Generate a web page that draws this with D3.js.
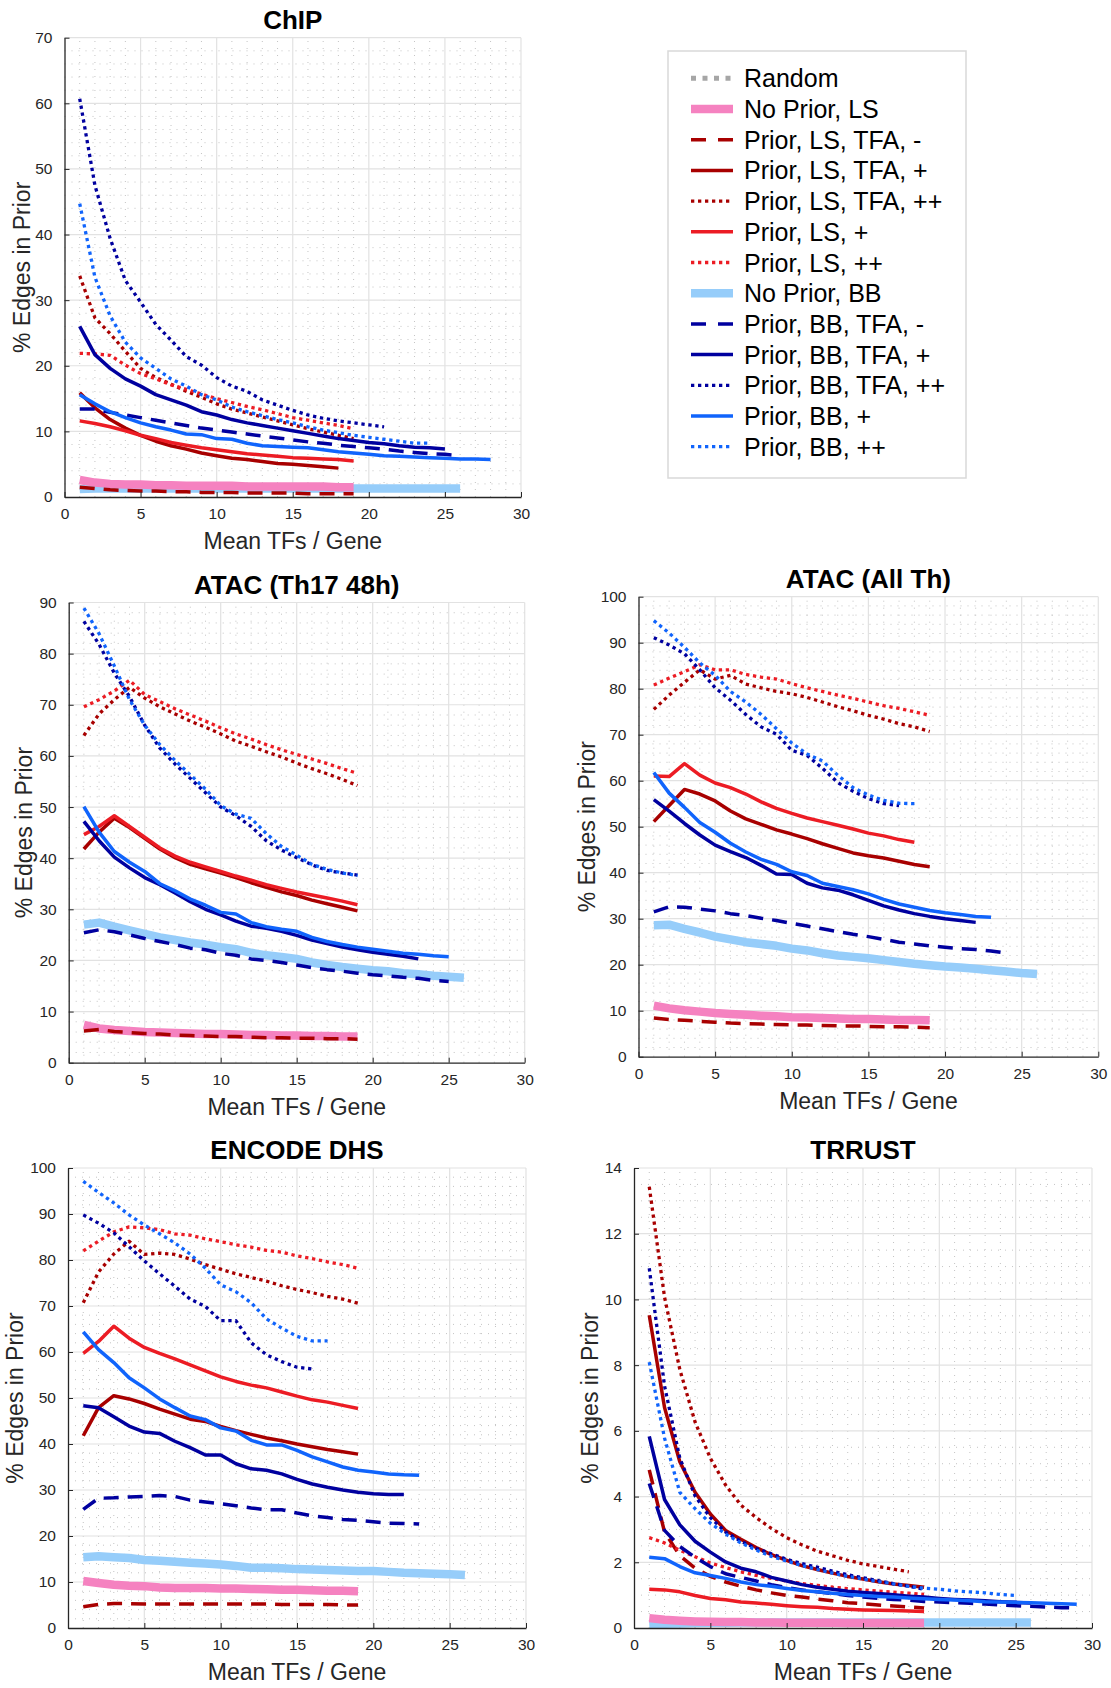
<!DOCTYPE html>
<html>
<head>
<meta charset="utf-8">
<script src="https://cdn.jsdelivr.net/npm/d3@7"></script>
<style>
  html, body { margin: 0; padding: 0; background: #ffffff; }
  svg { display: block; font-family: "Liberation Sans", Arial, Helvetica, sans-serif; }
</style>
</head>
<body>
<svg id="chart" width="1111" height="1688"></svg>
<script>
// ---------------- DATA (x = 1, 2, 3, ... mean TFs / gene) ----------------
const xTickValues = [0, 5, 10, 15, 20, 25, 30];
const panelTitles = ["ChIP", "ATAC (Th17 48h)", "ATAC (All Th)", "ENCODE DHS", "TRRUST"];
const legendLabels = ["Random", "No Prior, LS", "Prior, LS, TFA, -", "Prior, LS, TFA, +", "Prior, LS, TFA, ++",
  "Prior, LS, +", "Prior, LS, ++", "No Prior, BB", "Prior, BB, TFA, -", "Prior, BB, TFA, +",
  "Prior, BB, TFA, ++", "Prior, BB, +", "Prior, BB, ++"];
const xAxisLabel = "Mean TFs / Gene";
const yAxisLabel = "% Edges in Prior";

// ChIP
const chip_npBB = [1.2,1.3,1.3,1.3,1.3,1.3,1.3,1.3,1.3,1.3,1.3,1.3,1.3,1.3,1.3,1.3,1.3,1.3,1.3,1.3,1.3,1.3,1.3,1.3,1.3,1.3];
const chip_npLS = [2.6,2.2,2.0,1.9,1.9,1.8,1.8,1.7,1.7,1.7,1.7,1.6,1.6,1.6,1.6,1.6,1.6,1.5,1.5];
const chip_lsTfaMinus = [1.5,1.3,1.1,1.0,0.9,0.9,0.8,0.8,0.7,0.7,0.7,0.6,0.6,0.6,0.6,0.5,0.5,0.5,0.5];
const chip_lsTfaPlus = [15.9,13.6,11.8,10.5,9.4,8.5,7.8,7.3,6.7,6.3,5.9,5.7,5.4,5.1,5.0,4.8,4.6,4.4];
const chip_lsTfaPP = [33.7,27.3,24.9,22.2,19.6,18.2,17.2,16.1,15.2,14.2,13.4,12.8,12.2,11.6,11.0,10.4,9.9,9.4,8.9];
const chip_lsPlus = [11.6,11.2,10.7,10.1,9.4,8.9,8.3,7.9,7.5,7.2,6.9,6.6,6.4,6.2,6.0,5.9,5.8,5.7,5.5];
const chip_lsPP = [21.9,21.8,21.6,20.1,18.8,18.0,17.1,16.4,15.7,15.0,14.4,13.8,13.3,12.7,12.1,11.7,11.3,10.9,10.4];
const chip_bbTfaMinus = [13.4,13.4,12.9,12.5,12.1,11.7,11.3,10.9,10.5,10.2,9.9,9.6,9.3,9.0,8.7,8.4,8.2,7.9,7.7,7.5,7.3,7.0,6.8,6.6,6.5,6.3];
const chip_bbTfaPlus = [26.0,21.7,19.6,18.0,16.9,15.6,14.8,14.0,13.0,12.5,11.8,11.3,10.9,10.5,10.1,9.7,9.3,8.9,8.6,8.3,8.1,7.8,7.6,7.5,7.3];
const chip_bbTfaPP = [60.7,47.5,39.4,33.0,29.7,26.3,23.9,21.4,20.1,18.2,16.9,16.1,14.8,14.0,13.2,12.5,12.0,11.6,11.3,11.0,10.7];
const chip_bbPlus = [15.6,14.2,13.0,12.1,11.3,10.7,10.2,9.6,9.5,8.9,8.8,8.2,7.8,7.7,7.6,7.5,7.2,6.9,6.7,6.5,6.3,6.2,6.1,6.0,5.9,5.8,5.8,5.7];
const chip_bbPP = [44.7,33.5,27.6,23.6,21.2,19.6,18.0,16.9,15.6,14.8,13.7,13.0,12.4,11.8,11.3,10.7,10.2,9.8,9.4,9.1,8.8,8.5,8.2,8.2];

// ATAC (Th17 48h)
const th17_npBB = [27.0,27.4,26.6,25.9,25.2,24.5,24.0,23.5,23.1,22.6,22.2,21.5,21.0,20.7,20.3,19.6,19.1,18.7,18.4,18.1,17.9,17.5,17.3,17.0,16.8,16.6];
const th17_npLS = [7.4,6.7,6.4,6.2,6.0,5.9,5.8,5.7,5.6,5.6,5.5,5.4,5.4,5.3,5.3,5.2,5.2,5.1,5.1];
const th17_lsTfaMinus = [6.2,6.5,6.1,5.9,5.7,5.6,5.4,5.3,5.2,5.1,5.1,5.0,4.9,4.9,4.8,4.8,4.7,4.7,4.6];
const th17_lsTfaPlus = [41.8,45.1,47.8,46.0,43.9,41.8,40.1,38.8,37.9,37.1,36.2,35.2,34.3,33.4,32.7,31.8,31.1,30.4,29.7];
const th17_lsTfaPP = [64.0,68.2,71.0,73.4,71.3,69.6,68.2,66.8,65.6,64.3,62.9,61.9,60.8,59.8,58.6,57.5,56.5,55.4,54.2];
const th17_lsPlus = [44.6,46.2,48.3,46.2,44.1,42.0,40.4,39.2,38.3,37.4,36.5,35.7,34.8,34.1,33.4,32.8,32.2,31.6,30.9];
const th17_lsPP = [69.6,71.0,72.7,74.8,72.0,70.6,69.2,68.0,66.8,65.5,64.3,63.3,62.2,61.2,60.3,59.4,58.5,57.5,56.6];
const th17_bbTfaMinus = [25.4,26.0,25.6,25.0,24.3,23.7,23.1,22.4,22.1,21.4,21.0,20.3,20.0,19.6,19.1,18.6,18.2,17.9,17.5,17.2,17.0,16.7,16.5,16.1,15.9];
const th17_bbTfaPlus = [47.2,43.4,40.2,38.1,36.2,34.8,33.2,31.5,30.0,28.9,27.7,26.7,26.3,25.7,24.9,24.0,23.3,22.6,22.1,21.6,21.2,20.8,20.3];
const th17_bbTfaPP = [86.3,81.8,76.2,71.6,66.0,61.5,58.4,55.6,52.8,50.0,48.3,46.2,43.4,41.6,40.1,38.7,37.6,37.1,36.7];
const th17_bbPlus = [50.1,45.1,41.3,39.2,37.4,35.0,33.6,32.0,30.8,29.4,29.1,27.4,26.6,26.1,25.7,24.5,23.7,23.1,22.6,22.2,21.8,21.4,21.2,20.9,20.7];
const th17_bbPP = [88.9,83.9,77.6,71.0,66.0,62.2,59.1,56.3,53.5,50.3,48.6,47.8,44.8,42.3,40.6,38.8,37.8,37.1,36.6];

// ATAC (All Th)
const allth_npBB = [28.6,28.7,27.8,27.0,26.1,25.5,24.9,24.5,24.1,23.5,23.1,22.5,22.0,21.7,21.4,21.0,20.6,20.2,19.9,19.6,19.4,19.1,18.8,18.5,18.2,18.0];
const allth_npLS = [11.1,10.5,10.1,9.8,9.5,9.3,9.1,8.9,8.8,8.6,8.5,8.4,8.3,8.2,8.2,8.1,8.0,8.0,7.9];
const allth_lsTfaMinus = [8.4,8.1,7.9,7.7,7.5,7.3,7.2,7.1,7.0,6.9,6.9,6.8,6.7,6.7,6.6,6.5,6.5,6.4,6.3];
const allth_lsTfaPlus = [51.1,54.6,58.1,57.1,55.6,53.4,51.7,50.5,49.3,48.4,47.4,46.3,45.3,44.3,43.7,43.2,42.5,41.8,41.3];
const allth_lsTfaPP = [75.5,78.6,81.4,84.1,82.1,82.9,81.0,80.2,79.4,78.9,78.1,77.1,76.1,75.2,74.2,73.4,72.4,71.7,70.7];
const allth_lsPlus = [61.0,60.9,63.7,61.2,59.5,58.5,57.1,55.4,54.0,52.9,51.9,51.1,50.3,49.5,48.6,48.0,47.2,46.6];
const allth_lsPP = [80.8,82.3,83.7,85.2,84.1,84.1,83.1,82.5,82.1,81.1,80.2,79.4,78.6,77.9,77.1,76.3,75.7,75.0,74.2];
const allth_bbTfaMinus = [31.5,32.6,32.5,32.1,31.7,31.1,30.7,30.1,29.6,29.0,28.4,27.8,27.2,26.6,26.1,25.5,24.9,24.5,24.1,23.8,23.5,23.3,23.0,22.5];
const allth_bbTfaPlus = [55.9,53.4,50.7,48.2,46.0,44.6,43.3,41.6,39.7,39.6,37.7,36.7,36.2,35.2,34.0,32.8,31.9,31.1,30.5,30.0,29.6,29.2];
const allth_bbTfaPP = [91.1,89.5,87.6,84.1,80.2,77.5,74.4,71.7,70.1,66.6,65.5,62.7,59.6,57.7,56.1,55.0,54.6];
const allth_bbPlus = [61.8,57.3,54.2,50.9,48.8,46.4,44.5,42.9,41.8,40.2,39.4,37.7,37.0,36.3,35.4,34.2,33.2,32.5,31.8,31.3,30.9,30.5,30.3];
const allth_bbPP = [94.8,92.1,89.0,85.6,82.9,79.4,77.1,74.4,71.3,68.2,65.8,64.3,61.2,58.5,56.9,55.7,55.1,55.0];

// ENCODE DHS
const enc_npBB = [15.4,15.6,15.4,15.2,14.8,14.6,14.4,14.2,14.0,13.8,13.5,13.1,13.1,13.0,12.8,12.7,12.6,12.5,12.4,12.4,12.2,12.0,11.9,11.8,11.7,11.5];
const enc_npLS = [10.2,9.8,9.4,9.2,9.1,8.8,8.7,8.7,8.7,8.6,8.6,8.5,8.4,8.3,8.3,8.2,8.1,8.1,8.0];
const enc_lsTfaMinus = [4.6,5.1,5.3,5.3,5.2,5.2,5.2,5.2,5.2,5.2,5.2,5.2,5.2,5.1,5.1,5.1,5.1,5.0,5.0];
const enc_lsTfaPlus = [41.8,47.9,50.5,49.8,48.8,47.6,46.5,45.4,44.9,43.8,42.9,42.1,41.3,40.7,40.0,39.4,38.8,38.3,37.8];
const enc_lsTfaPP = [70.7,77.4,81.3,84.1,81.2,81.5,81.2,80.2,79.0,78.0,77.0,76.2,75.4,74.4,73.6,72.9,72.1,71.5,70.6];
const enc_lsPlus = [59.7,62.3,65.6,63.0,61.0,59.7,58.5,57.2,55.9,54.6,53.6,52.8,52.2,51.3,50.4,49.6,49.1,48.4,47.7];
const enc_lsPP = [82.0,84.1,86.1,87.2,87.0,86.6,85.7,85.4,84.6,84.0,83.3,82.8,82.1,81.7,80.9,80.3,79.6,79.0,78.2];
const enc_bbTfaMinus = [25.8,28.2,28.3,28.5,28.6,28.8,28.6,27.8,27.4,27.0,26.6,26.1,25.7,25.7,25.0,24.4,24.0,23.6,23.4,23.1,22.8,22.7,22.6];
const enc_bbTfaPlus = [48.3,47.9,45.9,43.9,42.6,42.3,40.6,39.2,37.6,37.6,35.7,34.6,34.3,33.5,32.3,31.3,30.6,30.0,29.5,29.2,29.0,29.0];
const enc_bbTfaPP = [89.8,88.0,85.9,82.9,79.8,77.0,74.3,71.5,69.9,66.8,66.8,62.0,59.4,57.9,56.7,56.3];
const enc_bbPlus = [64.4,60.5,57.7,54.4,52.2,49.8,47.9,46.1,45.3,43.5,42.8,40.8,39.8,39.8,38.6,37.2,36.1,35.0,34.3,33.9,33.5,33.3,33.2];
const enc_bbPP = [97.1,94.7,92.4,89.8,87.6,85.7,83.7,81.3,78.2,74.6,73.1,70.7,67.2,65.2,63.4,62.4,62.4];

// TRRUST
const tr_npBB = [0.10,0.13,0.14,0.15,0.16,0.16,0.17,0.17,0.17,0.17,0.17,0.17,0.17,0.17,0.17,0.17,0.17,0.17,0.17,0.17,0.17,0.17,0.17,0.17,0.17,0.17];
const tr_npLS = [0.30,0.25,0.22,0.20,0.19,0.18,0.18,0.17,0.17,0.16,0.16,0.16,0.16,0.15,0.15,0.15,0.15,0.15,0.15];
const tr_lsTfaMinus = [4.81,2.92,2.20,1.82,1.57,1.40,1.27,1.16,1.07,0.99,0.94,0.88,0.83,0.77,0.74,0.70,0.67,0.64,0.61];
const tr_lsTfaPlus = [9.52,6.71,5.06,4.13,3.47,2.97,2.70,2.45,2.23,2.06,1.90,1.78,1.67,1.57,1.49,1.41,1.34,1.29,1.24];
const tr_lsTfaPP = [13.43,10.07,7.87,6.27,5.17,4.35,3.74,3.36,3.03,2.75,2.53,2.34,2.20,2.06,1.95,1.87,1.79,1.71];
const tr_lsPlus = [1.18,1.16,1.10,0.99,0.90,0.86,0.79,0.76,0.72,0.68,0.65,0.63,0.59,0.57,0.55,0.54,0.53,0.52,0.50];
const tr_lsPP = [2.75,2.59,2.37,2.17,1.98,1.84,1.71,1.60,1.51,1.43,1.35,1.30,1.24,1.20,1.16,1.12,1.09,1.06,1.02];
const tr_bbTfaMinus = [4.40,2.97,2.48,2.15,1.87,1.65,1.54,1.43,1.32,1.23,1.16,1.10,1.05,0.99,0.94,0.90,0.87,0.85,0.81,0.79,0.77,0.75,0.73,0.70,0.68,0.66,0.64,0.62,0.61];
const tr_bbTfaPlus = [5.83,3.91,3.14,2.64,2.31,2.01,1.82,1.71,1.54,1.43,1.32,1.24,1.18,1.12,1.08,1.05,1.01,0.97,0.94,0.90,0.87,0.85,0.83,0.80,0.78,0.76];
const tr_bbTfaPP = [10.95,7.37,5.17,4.02,3.36,2.92,2.64,2.42,2.26,2.09,1.96,1.85,1.73,1.62,1.53,1.44,1.35,1.27,1.18];
const tr_bbPlus = [2.15,2.11,1.87,1.68,1.60,1.51,1.40,1.32,1.27,1.20,1.14,1.10,1.06,1.02,0.99,0.96,0.94,0.91,0.89,0.87,0.85,0.83,0.80,0.79,0.78,0.77,0.75,0.74,0.72];
const tr_bbPP = [8.09,5.78,4.13,3.63,3.19,2.86,2.59,2.37,2.18,2.04,1.90,1.78,1.67,1.57,1.49,1.41,1.34,1.27,1.21,1.18,1.13,1.10,1.07,1.02,0.99];

// ---------------- STYLES ----------------
const C = { grey: "#a6a6a6", pink: "#f582c0", dred: "#a80000", red: "#ec1c24", lblue: "#96cdfa", navy: "#00009f", blue: "#1064fc" };
const DOT = "3.3,3.7", DASH = "15,9";
const seriesStyles = [
  { key: "random", color: C.grey, width: 5, dash: "5,6.5" },
  { key: "npLS", color: C.pink, width: 8.5, dash: null },
  { key: "lsTfaMinus", color: C.dred, width: 3.5, dash: DASH },
  { key: "lsTfaPlus", color: C.dred, width: 3.5, dash: null },
  { key: "lsTfaPP", color: C.dred, width: 3.3, dash: DOT },
  { key: "lsPlus", color: C.red, width: 3.5, dash: null },
  { key: "lsPP", color: C.red, width: 3.3, dash: DOT },
  { key: "npBB", color: C.lblue, width: 8.5, dash: null },
  { key: "bbTfaMinus", color: C.navy, width: 3.5, dash: DASH },
  { key: "bbTfaPlus", color: C.navy, width: 3.5, dash: null },
  { key: "bbTfaPP", color: C.navy, width: 3.3, dash: DOT },
  { key: "bbPlus", color: C.blue, width: 3.5, dash: null },
  { key: "bbPP", color: C.blue, width: 3.3, dash: DOT }
];
const styleOf = Object.fromEntries(seriesStyles.map(s => [s.key, s]));
const drawOrder = ["npBB", "npLS", "lsTfaMinus", "lsTfaPlus", "lsTfaPP", "lsPlus", "lsPP",
  "bbTfaMinus", "bbTfaPlus", "bbTfaPP", "bbPlus", "bbPP"];

function pack(npBB, npLS, lsTfaMinus, lsTfaPlus, lsTfaPP, lsPlus, lsPP, bbTfaMinus, bbTfaPlus, bbTfaPP, bbPlus, bbPP) {
  return { npBB, npLS, lsTfaMinus, lsTfaPlus, lsTfaPP, lsPlus, lsPP, bbTfaMinus, bbTfaPlus, bbTfaPP, bbPlus, bbPP };
}

// layout per panel
const panels = [
  { title: panelTitles[0], L: 64.5, R: 521, T: 37.7, B: 497, yMax: 70, yStep: 10, yMinor: 2, ylabOff: 43,
    data: pack(chip_npBB, chip_npLS, chip_lsTfaMinus, chip_lsTfaPlus, chip_lsTfaPP, chip_lsPlus, chip_lsPP, chip_bbTfaMinus, chip_bbTfaPlus, chip_bbTfaPP, chip_bbPlus, chip_bbPP) },
  { title: panelTitles[1], L: 68.7, R: 524.7, T: 602.5, B: 1062.7, yMax: 90, yStep: 10, yMinor: 2, ylabOff: 45,
    data: pack(th17_npBB, th17_npLS, th17_lsTfaMinus, th17_lsTfaPlus, th17_lsTfaPP, th17_lsPlus, th17_lsPP, th17_bbTfaMinus, th17_bbTfaPlus, th17_bbTfaPP, th17_bbPlus, th17_bbPP) },
  { title: panelTitles[2], L: 638.5, R: 1098.3, T: 596.7, B: 1056.7, yMax: 100, yStep: 10, yMinor: 2, ylabOff: 51.5,
    data: pack(allth_npBB, allth_npLS, allth_lsTfaMinus, allth_lsTfaPlus, allth_lsTfaPP, allth_lsPlus, allth_lsPP, allth_bbTfaMinus, allth_bbTfaPlus, allth_bbTfaPP, allth_bbPlus, allth_bbPP) },
  { title: panelTitles[3], L: 68, R: 526, T: 1168, B: 1628, yMax: 100, yStep: 10, yMinor: 2, ylabOff: 53,
    data: pack(enc_npBB, enc_npLS, enc_lsTfaMinus, enc_lsTfaPlus, enc_lsTfaPP, enc_lsPlus, enc_lsPP, enc_bbTfaMinus, enc_bbTfaPlus, enc_bbTfaPP, enc_bbPlus, enc_bbPP) },
  { title: panelTitles[4], L: 634, R: 1092, T: 1168, B: 1628, yMax: 14, yStep: 2, yMinor: 0.5, ylabOff: 44,
    data: pack(tr_npBB, tr_npLS, tr_lsTfaMinus, tr_lsTfaPlus, tr_lsTfaPP, tr_lsPlus, tr_lsPP, tr_bbTfaMinus, tr_bbTfaPlus, tr_bbTfaPP, tr_bbPlus, tr_bbPP) }
];

const svg = d3.select("#chart");
const AX = "#262626";

panels.forEach(p => {
  const x = d3.scaleLinear().domain([0, 30]).range([p.L, p.R]);
  const y = d3.scaleLinear().domain([0, p.yMax]).range([p.B, p.T]);
  const g = svg.append("g");

  // minor grid (dotted)
  const xMinor = d3.range(1, 30).filter(v => v % 5 !== 0);
  const yMinorVals = d3.range(p.yMinor, p.yMax, p.yMinor).filter(v => Math.abs(v / p.yStep - Math.round(v / p.yStep)) > 1e-6);
  g.append("g").selectAll("line").data(xMinor).join("line")
    .attr("x1", d => x(d)).attr("x2", d => x(d)).attr("y1", p.B).attr("y2", p.T)
    .attr("stroke", "#c4c4c4").attr("stroke-width", 1).attr("stroke-dasharray", "1,6");
  g.append("g").selectAll("line").data(yMinorVals).join("line")
    .attr("y1", d => y(d)).attr("y2", d => y(d)).attr("x1", p.L).attr("x2", p.R)
    .attr("stroke", "#c4c4c4").attr("stroke-width", 1).attr("stroke-dasharray", "1,6");

  // major grid
  const yMajor = d3.range(0, p.yMax + p.yStep / 2, p.yStep);
  g.append("g").selectAll("line").data(xTickValues.slice(1)).join("line")
    .attr("x1", d => x(d)).attr("x2", d => x(d)).attr("y1", p.B).attr("y2", p.T)
    .attr("stroke", "#e2e2e2").attr("stroke-width", 1.2);
  g.append("g").selectAll("line").data(yMajor.slice(1)).join("line")
    .attr("y1", d => y(d)).attr("y2", d => y(d)).attr("x1", p.L).attr("x2", p.R)
    .attr("stroke", "#e2e2e2").attr("stroke-width", 1.2);

  // series
  const line = d3.line().x((d, i) => x(i + 1)).y(d => y(d));
  drawOrder.forEach(k => {
    const s = styleOf[k];
    g.append("path").datum(p.data[k]).attr("d", line)
      .attr("fill", "none").attr("stroke", s.color).attr("stroke-width", s.width)
      .attr("stroke-dasharray", s.dash).attr("stroke-linejoin", "round")
      .attr("stroke-linecap", "butt");
  });

  // axes
  const xAxis = d3.axisBottom(x).tickValues(xTickValues).tickSizeInner(-5).tickSizeOuter(0).tickPadding(11);
  const yAxis = d3.axisLeft(y).tickValues(yMajor).tickSizeInner(-5).tickSizeOuter(0).tickPadding(12);
  const gx = g.append("g").attr("transform", `translate(0,${p.B})`).call(xAxis);
  const gy = g.append("g").attr("transform", `translate(${p.L},0)`).call(yAxis);
  [gx, gy].forEach(a => {
    a.select(".domain").attr("stroke", AX).attr("stroke-width", 1.3);
    a.selectAll(".tick line").attr("stroke", AX).attr("stroke-width", 1);
    a.selectAll(".tick text").attr("fill", AX).attr("font-size", 15.5)
      .attr("font-family", "'Liberation Sans', Arial, Helvetica, sans-serif");
  });

  // title
  g.append("text").attr("x", (p.L + p.R) / 2).attr("y", p.T - 9)
    .attr("text-anchor", "middle").attr("font-size", 26).attr("font-weight", "bold")
    .attr("fill", "#000").text(p.title);
  // x label
  g.append("text").attr("x", (p.L + p.R) / 2).attr("y", p.B + 52)
    .attr("text-anchor", "middle").attr("font-size", 23).attr("fill", AX).text(xAxisLabel);
  // y label
  g.append("text")
    .attr("transform", `translate(${p.L - p.ylabOff},${(p.T + p.B) / 2}) rotate(-90)`)
    .attr("text-anchor", "middle").attr("dy", "0.35em").attr("font-size", 23).attr("fill", AX).text(yAxisLabel);
});

// ---------------- LEGEND ----------------
const lg = svg.append("g");
lg.append("rect").attr("x", 668).attr("y", 51).attr("width", 298).attr("height", 427)
  .attr("fill", "#fff").attr("stroke", "#d9d9d9").attr("stroke-width", 1.5);
const ly = d3.scalePoint().domain(d3.range(legendLabels.length)).range([78.3, 446.7]);
seriesStyles.forEach((s, i) => {
  lg.append("line").attr("x1", 691).attr("x2", 733).attr("y1", ly(i)).attr("y2", ly(i))
    .attr("stroke", s.color).attr("stroke-width", s.width)
    .attr("stroke-dasharray", s.dash === DASH ? "15,12" : s.dash);
  lg.append("text").attr("x", 744).attr("y", ly(i)).attr("dy", "0.36em")
    .attr("font-size", 25).attr("fill", "#000").text(legendLabels[i]);
});
</script>
</body>
</html>
